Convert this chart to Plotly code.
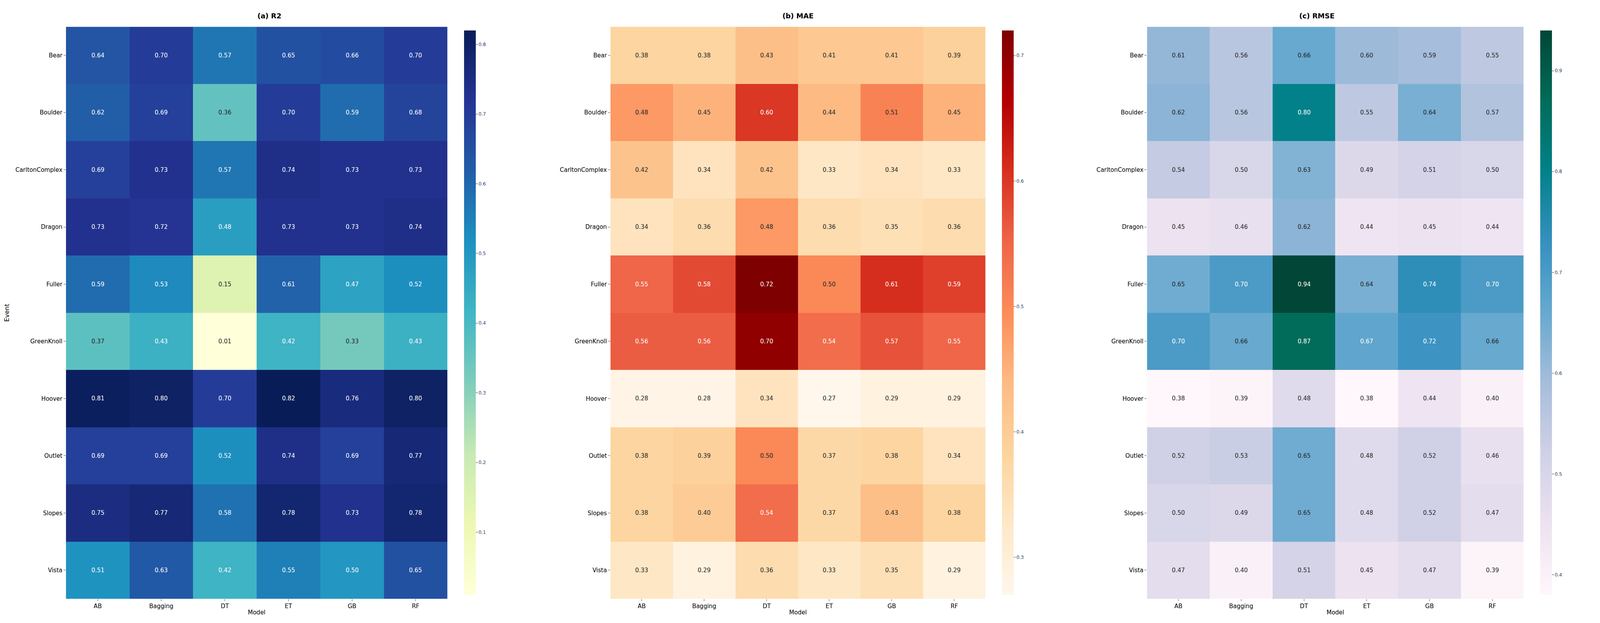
import plotly.graph_objects as go

models = ["AB", "Bagging", "DT", "ET", "GB", "RF"]
events = ["Bear", "Boulder", "CarltonComplex", "Dragon", "Fuller", "GreenKnoll",
          "Hoover", "Outlet", "Slopes", "Vista"]

r2 = [
    [0.64, 0.70, 0.57, 0.65, 0.66, 0.70],
    [0.62, 0.69, 0.36, 0.70, 0.59, 0.68],
    [0.69, 0.73, 0.57, 0.74, 0.73, 0.73],
    [0.73, 0.72, 0.48, 0.73, 0.73, 0.74],
    [0.59, 0.53, 0.15, 0.61, 0.47, 0.52],
    [0.37, 0.43, 0.01, 0.42, 0.33, 0.43],
    [0.81, 0.80, 0.70, 0.82, 0.76, 0.80],
    [0.69, 0.69, 0.52, 0.74, 0.69, 0.77],
    [0.75, 0.77, 0.58, 0.78, 0.73, 0.78],
    [0.51, 0.63, 0.42, 0.55, 0.50, 0.65],
]
mae = [
    [0.38, 0.38, 0.43, 0.41, 0.41, 0.39],
    [0.48, 0.45, 0.60, 0.44, 0.51, 0.45],
    [0.42, 0.34, 0.42, 0.33, 0.34, 0.33],
    [0.34, 0.36, 0.48, 0.36, 0.35, 0.36],
    [0.55, 0.58, 0.72, 0.50, 0.61, 0.59],
    [0.56, 0.56, 0.70, 0.54, 0.57, 0.55],
    [0.28, 0.28, 0.34, 0.27, 0.29, 0.29],
    [0.38, 0.39, 0.50, 0.37, 0.38, 0.34],
    [0.38, 0.40, 0.54, 0.37, 0.43, 0.38],
    [0.33, 0.29, 0.36, 0.33, 0.35, 0.29],
]
rmse = [
    [0.61, 0.56, 0.66, 0.60, 0.59, 0.55],
    [0.62, 0.56, 0.80, 0.55, 0.64, 0.57],
    [0.54, 0.50, 0.63, 0.49, 0.51, 0.50],
    [0.45, 0.46, 0.62, 0.44, 0.45, 0.44],
    [0.65, 0.70, 0.94, 0.64, 0.74, 0.70],
    [0.70, 0.66, 0.87, 0.67, 0.72, 0.66],
    [0.38, 0.39, 0.48, 0.38, 0.44, 0.40],
    [0.52, 0.53, 0.65, 0.48, 0.52, 0.46],
    [0.50, 0.49, 0.65, 0.48, 0.52, 0.47],
    [0.47, 0.40, 0.51, 0.45, 0.47, 0.39],
]

panels = [
    ("(a) R2", r2, "YlGnBu", [0.034, 0.275], 0.283, [0.1, 0.2, 0.3, 0.4, 0.5, 0.6, 0.7, 0.8], 0.40),
    ("(b) MAE", mae, "OrRd", [0.378, 0.615], 0.623, [0.3, 0.4, 0.5, 0.6, 0.7], 0.52),
    ("(c) RMSE", rmse, "PuBuGn", [0.717, 0.955], 0.963, [0.4, 0.5, 0.6, 0.7, 0.8, 0.9], 0.665),
]

fig = go.Figure()
annotations = []
font = "DejaVu Sans"
for i, (title, z, cs, dom, cbx, ticks, thr) in enumerate(panels):
    ax = "" if i == 0 else str(i + 1)
    flat = [v for row in z for v in row]
    fig.add_trace(go.Heatmap(
        z=z, x=models, y=events, colorscale=cs, zmin=min(flat), zmax=max(flat),
        xaxis="x" + ax, yaxis="y" + ax,
        colorbar=dict(x=cbx, xanchor="left", y=0.041, yanchor="bottom", len=0.924,
                      lenmode="fraction", thickness=30, outlinewidth=0,
                      tickvals=ticks, ticks="outside", ticklen=5,
                      tickfont=dict(size=12, family=font)),
    ))
    for r, ev in enumerate(events):
        for c, m in enumerate(models):
            v = z[r][c]
            annotations.append(dict(
                x=m, y=ev, xref="x" + ax, yref="y" + ax, text=f"{v:.2f}",
                showarrow=False, font=dict(size=15, family=font,
                                           color="white" if v > thr else "#262626")))
    annotations.append(dict(x=(dom[0] + dom[1]) / 2, y=0.975, xref="paper", yref="paper",
                            text="<b>" + title + "</b>", showarrow=False, yanchor="bottom",
                            font=dict(size=18, family=font, color="black")))
    fig.update_layout(**{
        "xaxis" + ax: dict(domain=dom, anchor="y" + ax, ticks="outside", ticklen=5,
                           tickfont=dict(size=15, family=font, color="black"),
                           title=dict(text="Model", font=dict(size=15, family=font, color="black"), standoff=2),
                           showgrid=False, zeroline=False),
        "yaxis" + ax: dict(domain=[0.041, 0.965], anchor="x" + ax, autorange="reversed",
                           ticks="outside", ticklen=5,
                           tickfont=dict(size=15, family=font, color="black"),
                           title=dict(text="Event" if i == 0 else "",
                                      font=dict(size=16, family=font, color="black")),
                           showgrid=False, zeroline=False),
    })

fig.update_layout(autosize=True, plot_bgcolor="white", paper_bgcolor="white",
                  margin=dict(l=5, r=5, t=5, b=5), annotations=annotations)
fig.write_html("out.html", default_width="100%", default_height="100vh")
